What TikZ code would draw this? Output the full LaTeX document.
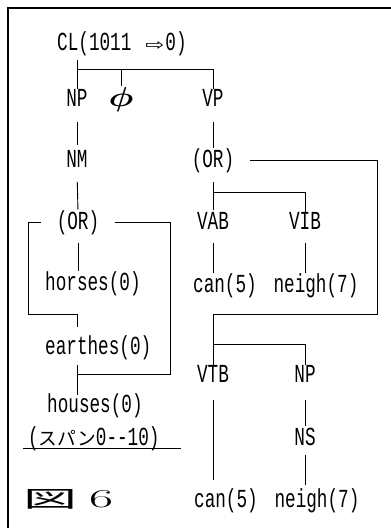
\documentclass[tikz,border=0pt]{standalone}
\usepackage{amsmath}
\usepackage{graphicx}
\usepackage{fontspec}
\setmainfont{Liberation Mono}[FakeStretch=0.68]
\newfontfamily\jpfont{Noto Sans CJK JP}[Scale=0.72]
\newfontfamily\figjp{Noto Sans CJK JP}
\newfontfamily\arrowfont{DejaVu Sans}
\newfontfamily\lmfont{Latin Modern Roman}
\usetikzlibrary{calc}

\begin{document}
\begin{tikzpicture}[x=1pt, y=-1pt,
    every node/.style={inner sep=0pt, outer ysep=3pt, text height=15pt, text depth=0pt,
      font=\fontsize{26}{28}\selectfont},
    wire/.style={line width=0.9pt},
    link/.style={wire, shorten <=10pt, shorten >=2pt},
    ornode/.style={outer xsep=16pt}]
    \useasboundingbox (0,0) rectangle (391,528);
    % frame
    \draw[line width=1.3pt] (391,8) -- (8,8) -- (8,528);

    % clause tree
    \node[anchor=west] (cl) at (57,43)
      {CL(1011\hspace{14pt}\resizebox{19pt}{9pt}{\arrowfont ⇨}\hspace{1pt}0)};
    \node (np) at (77,99) {NP};
    \node (phi) at (121,99) {\scalebox{1.4}[1.1]{$\boldsymbol{\phi}$}};
    \node (vp) at (213,99) {VP};
    \node (nm) at (77,160) {NM};
    \node[ornode] (orv) at (213,160) {(OR)};
    \node[ornode] (orn) at (78,222) {(OR)};
    \node (vab) at (213,222) {VAB};
    \node (vib) at (305,222) {VIB};
    \node[anchor=west] (horses) at (45,283) {horses(0)};
    \node (can1) at (225,285) {can(5)};
    \node (neigh1) at (316,285) {neigh(7)};
    \node[anchor=west] (earthes) at (45,347) {earthes(0)};
    \node (vtb) at (213,375) {VTB};
    \node (npb) at (305,375) {NP};
    \node[anchor=west] (houses) at (47,405) {houses(0)};
    \node[anchor=west] (span) at (28,438) {({\jpfont スパン}0-{}-10)};
    \node (ns) at (305,438) {NS};
    \node[anchor=west] (fig) at (23,500)
      {\resizebox{54pt}{18pt}{\figjp 図}\hspace{12pt}\resizebox{24pt}{17pt}{\lmfont 6}};
    \node (can2) at (226,500) {can(5)};
    \node (neigh2) at (317,500) {neigh(7)};

    % CL to NP, phi, VP
    \coordinate (bar) at ($(cl.south -| np)+(0,16)$);
    \draw[wire, shorten <=6.5pt] (cl.south -| np) -- (np.north);
    \draw[wire] (bar) -| (vp.north);
    \draw[wire, shorten >=3pt] (bar -| phi) -- (phi.north);
    \draw[link, shorten <=12.5pt, shorten >=4.5pt] (np.south) -- (nm.north);
    \draw[link, shorten <=12.5pt] (vp.south) -- (orv.north);
    \draw[link, shorten <=11.5pt] (nm.south) -- (orn.north);

    % noun OR
    \draw[link] (orn.south) -- (horses.north -| orn);
    \draw[wire] (orn.west) -- ++(-12,0) |- ($(earthes.north -| nm)+(0,-22)$)
      -- ($(earthes.north -| nm)+(0,-10)$);
    \draw[wire] (orn.east) -- ++(55.5,0) |- ($(houses.north -| nm)+(0,-20)$);
    \draw[wire, shorten <=7.5pt] (earthes.south -| nm) -- (houses.north -| nm);

    % verb OR
    \draw[link, shorten <=11.5pt] (orv.south) -- (vab.north);
    \draw[wire] ($(vab.north)+(0,-19.5)$) -| (vib.north);
    \draw[link] (vab.south) -- (vab.south |- can1.north);
    \draw[link] (vib.south) -- (vib.south |- neigh1.north);
    \draw[wire] (orv.east) -- ++(127.5,0) |- ($(vtb.north)+(0,-50)$) -- (vtb.north);
    \draw[wire] ($(vtb.north)+(0,-20)$) -| (npb.north);
    \draw[link, shorten <=14.5pt, shorten >=9.5pt] (vtb.south) -- (vtb.south |- can2.north);
    \draw[link, shorten <=14.5pt] (npb.south) -- (ns.north);
    \draw[link, shorten <=6.5pt, shorten >=4.5pt] (ns.south) -- (neigh2.north -| ns);

    % span note
    \draw[line width=1.2pt] ($(span.south west)+(-5,0)$) -- ++(158,0);
\end{tikzpicture}
\end{document}
